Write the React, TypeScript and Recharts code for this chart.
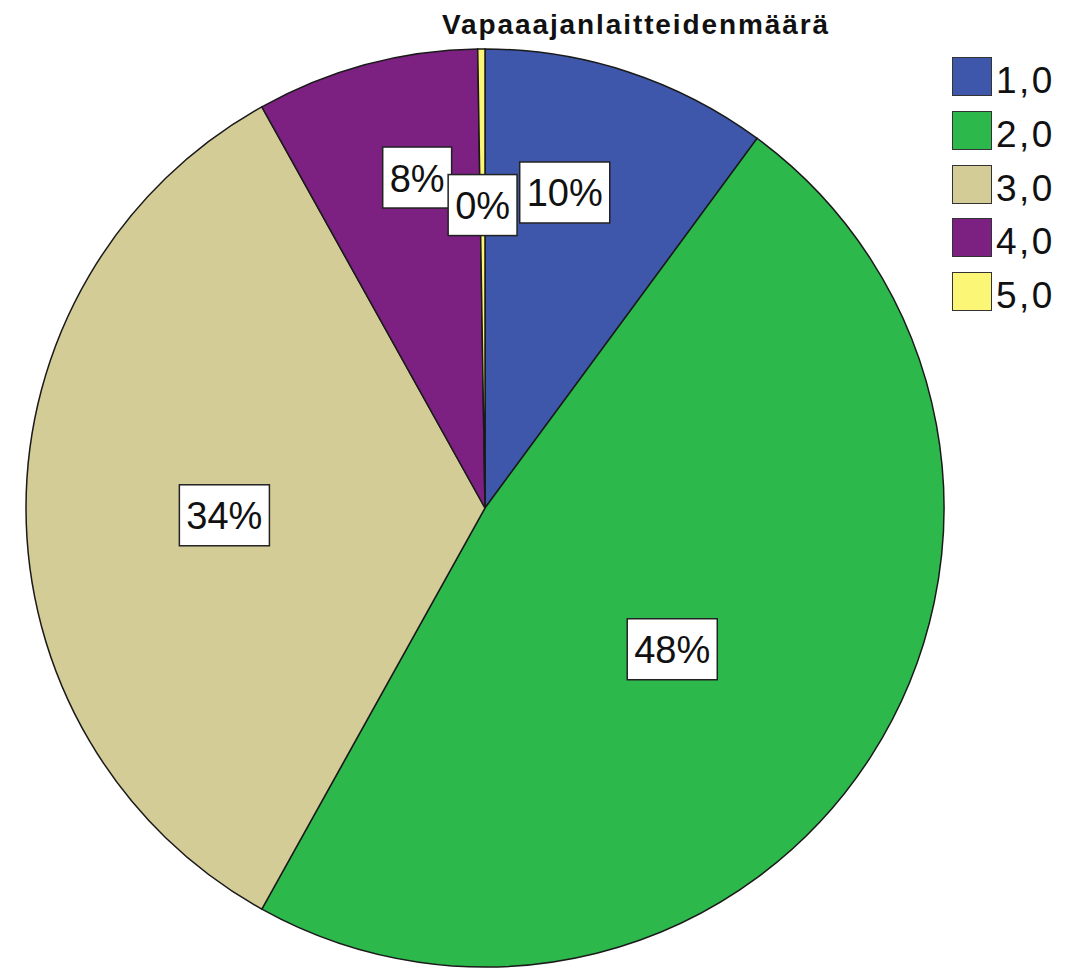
import React from 'react';
import { PieChart, Pie, Cell, Legend } from 'recharts';

const TITLE = 'Vapaaajanlaitteidenmäärä';
const CATEGORIES = ['1,0', '2,0', '3,0', '4,0', '5,0'];
const COUNTS = [40, 190, 134, 31, 1];
const COLORS = ['#3E57AA', '#2DB84C', '#D4CC97', '#7C2082', '#FCF677'];

// SPSS puts the labels a bit off the slice middles; per-slice nudges (angle in deg, radius as fraction)
const LABEL_NUDGE = [
  { da: 4, rf: 0.709 },
  { da: -4.3, rf: 0.511 },
  { da: 1.6, rf: 0.568 },
  { da: -3.4, rf: 0.735 },
  { da: 0, rf: 0.66 },
];

const FONT = '"Liberation Sans", Arial, sans-serif';
const RAD = Math.PI / 180;

const total = COUNTS.reduce((a, b) => a + b, 0);
const data = CATEGORIES.map((name, i) => ({ name, value: COUNTS[i], fill: COLORS[i] }));

const renderLabel = (props: any) => {
  const { cx, cy, midAngle, outerRadius, index, value } = props;
  const nudge = LABEL_NUDGE[index] || { da: 0, rf: 0.6 };
  const ang = midAngle + nudge.da;
  const r = outerRadius * nudge.rf;
  const x = cx + Math.cos(-ang * RAD) * r;
  const y = cy + Math.sin(-ang * RAD) * r;
  const txt = `${Math.round((value / total) * 100)}%`;
  const fs = 38;
  const w = (txt.length - 1) * fs * 0.556 + fs * 0.889 + 14;
  const h = 61;
  return (
    <g key={`lbl-${index}`}>
      <rect x={x - w / 2} y={y - h / 2} width={w} height={h} fill="#fff" stroke="#222" strokeWidth={1.5} />
      <text x={x} y={y + 1} textAnchor="middle" dominantBaseline="central" fontSize={fs} fontFamily={FONT} fill="#111">
        {txt}
      </text>
    </g>
  );
};

const LegendBox = () => (
  <div style={{ fontFamily: FONT }}>
    {CATEGORIES.map((c, i) => (
      <div key={c} style={{ display: 'flex', alignItems: 'center', height: 53.7 }}>
        <div style={{ width: 38, height: 37, background: COLORS[i], border: '1.5px solid #333' }} />
        <span style={{ fontSize: 37, letterSpacing: 2.5, marginLeft: 4, marginTop: 8, color: '#111', lineHeight: 1 }}>{c}</span>
      </div>
    ))}
  </div>
);

export default function App() {
  return (
    <div style={{ position: 'absolute', left: 0, top: 0, width: 1087, height: 969, background: '#fff', overflow: 'hidden' }}>
      <div
        style={{
          position: 'absolute', top: 8, left: 0, width: 1272, textAlign: 'center',
          fontFamily: FONT, fontSize: 28, fontWeight: 'bold', letterSpacing: 1.9, color: '#111', lineHeight: '34px',
        }}
      >
        {TITLE}
      </div>
      <PieChart width={1087} height={969} margin={{ top: 0, right: 0, bottom: 0, left: 0 }} style={{ position: 'absolute', left: 0, top: 0 }}>
        <Pie
          data={data}
          dataKey="value"
          nameKey="name"
          cx={485}
          cy={508}
          outerRadius={459}
          startAngle={90}
          endAngle={-270}
          stroke="#1a1a1a"
          strokeWidth={1.5}
          label={renderLabel}
          labelLine={false}
          isAnimationActive={false}
        >
          {data.map((d, i) => (
            <Cell key={`cell-${i}`} fill={d.fill} />
          ))}
        </Pie>
        <Legend
          layout="vertical"
          content={() => <LegendBox />}
          wrapperStyle={{ position: 'absolute', left: 952, top: 50, width: 130 }}
        />
      </PieChart>
    </div>
  );
}
